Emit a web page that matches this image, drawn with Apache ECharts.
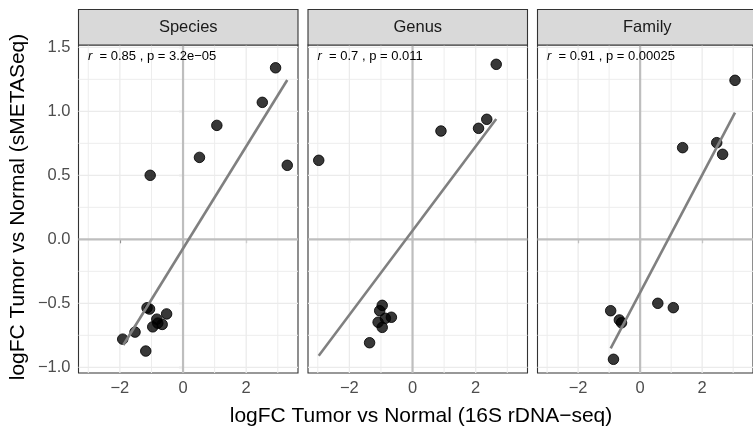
<!DOCTYPE html>
<html>
<head>
<meta charset="utf-8">
<script src="https://cdn.jsdelivr.net/npm/echarts@6/dist/echarts.min.js"></script>
<style>html,body{margin:0;padding:0;background:#fff;}#c{width:753px;height:430px;}</style>
</head>
<body>
<div id="c"></div>
<script>
// ---- data ----
const panelNames = ["Species", "Genus", "Family"];
const corrR = ["0.85", "0.7", "0.91"];
const corrP = ["3.2e\u221205", "0.011", "0.00025"];

const speciesX = [-1.04, 0.52, 1.07, 2.51, 2.93, 3.30, -1.91, -1.52, -1.18, -1.14, -1.06, -0.83, -0.96, -0.66, -0.52, -0.80];
const speciesY = [0.50, 0.64, 0.89, 1.07, 1.34, 0.578, -0.78, -0.725, -0.873, -0.535, -0.545, -0.624, -0.684, -0.665, -0.583, -0.655];
const speciesFitX = [-1.89, 3.30];
const speciesFitY = [-0.826, 1.245];

const genusX = [-2.97, 0.90, 2.09, 2.35, 2.65, -0.96, -1.04, -0.67, -1.09, -0.96, -1.36, -0.86];
const genusY = [0.617, 0.846, 0.867, 0.9375, 1.367, -0.516, -0.558, -0.609, -0.648, -0.688, -0.808, -0.617];
const genusFitX = [-2.97, 2.65];
const genusFitY = [-0.909, 0.94];

const familyX = [3.06, 1.37, 2.47, 2.66, -0.95, -0.67, -0.60, -0.86, 0.57, 1.07];
const familyY = [1.242, 0.716, 0.755, 0.664, -0.558, -0.63, -0.652, -0.9375, -0.50, -0.534];
const familyFitX = [-0.95, 3.06];
const familyFitY = [-0.852, 0.99];

const xTicks = [-2, 0, 2];
const xMinor = [-3, -1, 1, 3];
const yTicks = [-1.0, -0.5, 0.0, 0.5, 1.0, 1.5];
const yMinor = [-0.75, -0.25, 0.25, 0.75, 1.25];

const xTitle = "logFC Tumor vs Normal (16S rDNA\u2212seq)";
const yTitle = "logFC Tumor vs Normal (sMETASeq)";

// ---- layout ----
const FONT = "Liberation Sans, Arial, Helvetica, sans-serif";
const X_MIN = -3.31, X_MAX = 3.64, Y_MIN = -1.0445, Y_MAX = 1.518;
const panelLeft = [78.5, 308, 537.5];
const panelW = 219.5, panelTop = 45, panelH = 328;
const stripTop = 9.5;
const TICK_FS = 16.5, TITLE_FS = 21;

const xs = [speciesX, genusX, familyX];
const ys = [speciesY, genusY, familyY];
const fx = [speciesFitX, genusFitX, familyFitX];
const fy = [speciesFitY, genusFitY, familyFitY];

const fmt = v => Number(v).toFixed(1).replace('-', '\u2212');
const fmtX = v => String(Math.round(v)).replace('-', '\u2212');

// gridline rows: [value, orientation(0 = vertical, 1 = horizontal), kind(0 minor, 1 major, 2 zero)]
const gridRows = [];
xMinor.forEach(v => gridRows.push([v, 0, 0]));
xTicks.forEach(v => gridRows.push([v, 0, v === 0 ? 2 : 1]));
yMinor.forEach(v => gridRows.push([v, 1, 0]));
yTicks.forEach(v => gridRows.push([v, 1, v === 0 ? 2 : 1]));
const lineStyles = [
  {stroke: '#EDEDED', lineWidth: 1},
  {stroke: '#EBEBEB', lineWidth: 1.3},
  {stroke: '#BEBEBE', lineWidth: 2.2}
];

function gridRender(params, api) {
  const v = api.value(0), o = api.value(1), k = api.value(2);
  let p1, p2;
  if (o === 0) { p1 = api.coord([v, Y_MIN]); p2 = api.coord([v, Y_MAX]); }
  else { p1 = api.coord([X_MIN, v]); p2 = api.coord([X_MAX, v]); }
  return {type: 'line', shape: {x1: p1[0], y1: p1[1], x2: p2[0], y2: p2[1]},
    style: Object.assign({}, lineStyles[k]), z2: k};
}

const grids = [], xAxes = [], yAxes = [], series = [], graphics = [];

for (let i = 0; i < 3; i++) {
  grids.push({left: panelLeft[i], top: panelTop, width: panelW, height: panelH,
    show: true, backgroundColor: '#fff', borderColor: '#333333', borderWidth: 1.1, z: 0});
  xAxes.push({type: 'value', gridIndex: i, min: X_MIN, max: X_MAX,
    axisLine: {show: false}, splitLine: {show: false},
    axisTick: {show: true, length: 4, lineStyle: {color: '#333', width: 1.1}, customValues: xTicks},
    axisLabel: {show: true, margin: 7, color: '#4D4D4D', fontSize: TICK_FS, fontFamily: FONT,
      customValues: xTicks, formatter: fmtX}});
  yAxes.push({type: 'value', gridIndex: i, min: Y_MIN, max: Y_MAX,
    axisLine: {show: false}, splitLine: {show: false},
    axisTick: {show: i === 0, length: 4, lineStyle: {color: '#333', width: 1.1}, customValues: yTicks},
    axisLabel: {show: i === 0, margin: 8, color: '#4D4D4D', fontSize: TICK_FS, fontFamily: FONT,
      customValues: yTicks, formatter: fmt}});

  series.push({type: 'custom', xAxisIndex: i, yAxisIndex: i, z: 1, silent: true, clip: true,
    renderItem: gridRender, data: gridRows});
  series.push({type: 'scatter', xAxisIndex: i, yAxisIndex: i, z: 3, symbolSize: 10.5,
    itemStyle: {color: 'rgba(0,0,0,0.78)', borderColor: 'rgba(0,0,0,0.85)', borderWidth: 1, opacity: 1},
    data: xs[i].map((x, k) => [x, ys[i][k]])});
  series.push({type: 'line', xAxisIndex: i, yAxisIndex: i, z: 4, symbol: 'none',
    lineStyle: {color: '#808080', width: 2.6}, data: fx[i].map((x, k) => [x, fy[i][k]])});

  // strip
  graphics.push({type: 'rect', shape: {x: panelLeft[i], y: stripTop, width: panelW, height: panelTop - stripTop},
    style: {fill: '#D9D9D9', stroke: '#333333', lineWidth: 1.1}, z: 10});
  graphics.push({type: 'text', x: panelLeft[i] + panelW / 2, y: 27.5, z: 11,
    style: {text: panelNames[i], fill: '#1A1A1A', font: TICK_FS + 'px ' + FONT, textAlign: 'center', textVerticalAlign: 'middle'}});
  // annotation
  graphics.push({type: 'text', x: panelLeft[i] + 9.5, y: 56, z: 11,
    style: {text: '{i|r}  = ' + corrR[i] + ' , p = ' + corrP[i], fill: '#000', font: '13px ' + FONT,
      textAlign: 'left', textVerticalAlign: 'middle',
      rich: {i: {fontStyle: 'italic', fontSize: 13, fontFamily: FONT, fill: '#000'}}}});
}

graphics.push({type: 'text', x: 421, y: 416, z: 11,
  style: {text: xTitle, fill: '#000', font: TITLE_FS + 'px ' + FONT, textAlign: 'center', textVerticalAlign: 'middle'}});
graphics.push({type: 'text', x: 18, y: 207, rotation: Math.PI / 2, z: 11,
  style: {text: yTitle, fill: '#000', font: TITLE_FS + 'px ' + FONT, textAlign: 'center', textVerticalAlign: 'middle'}});

const chart = echarts.init(document.getElementById('c'), null, {renderer: 'canvas'});
chart.setOption({animation: false, backgroundColor: '#fff',
  grid: grids, xAxis: xAxes, yAxis: yAxes, series: series, graphic: graphics});
</script>
</body>
</html>
